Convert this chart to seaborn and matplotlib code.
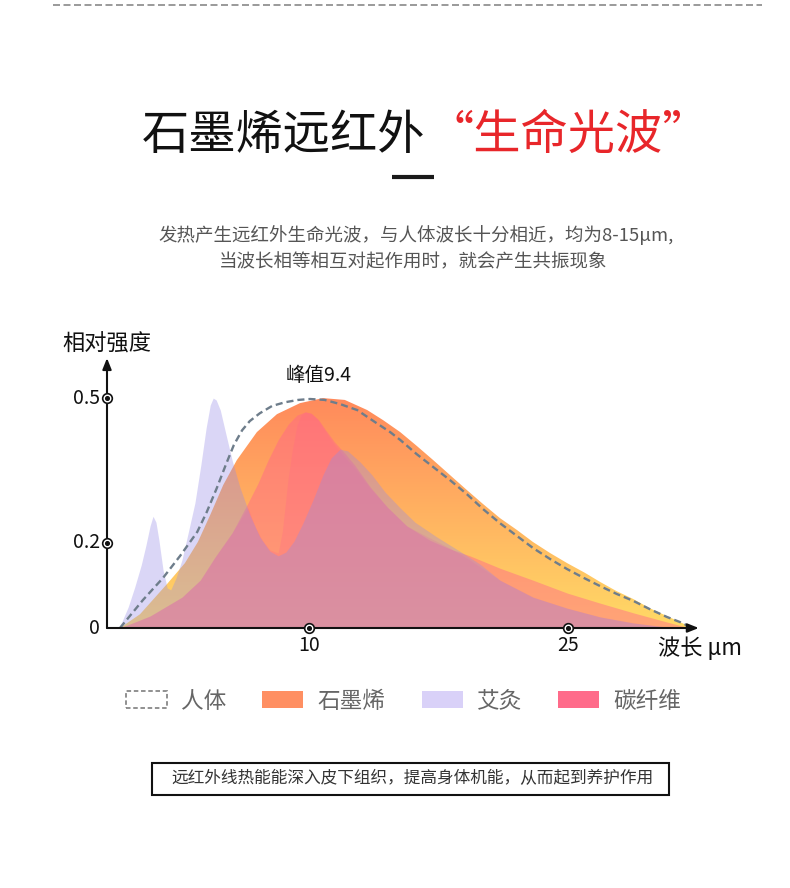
import numpy as np
import matplotlib.pyplot as plt
import seaborn as sns
from matplotlib.colors import LinearSegmentedColormap
from matplotlib.patches import Polygon, Patch, Rectangle
from matplotlib.lines import Line2D

# values
# x = position along the wavelength axis (0 = origin, 100 = arrow tip), y = relative intensity
human_x = [2.2, 6.1, 9.5, 12.4, 15.3, 16.9, 18.6, 20.2, 21.5, 22.9, 24.2, 25.9, 28.0, 30.2,
           32.4, 34.4, 36.9, 39.5, 42.4, 45.4, 48.0, 49.7, 52.5, 55.3, 58.1, 61.0, 63.7, 66.6,
           69.5, 72.2, 75.1, 78.0, 80.8, 83.6, 86.4, 89.2, 92.0, 94.9, 97.1, 99.3]
human_y = [0, 0.061, 0.109, 0.157, 0.209, 0.252, 0.304, 0.357, 0.398, 0.430, 0.450, 0.467,
           0.483, 0.491, 0.496, 0.498, 0.496, 0.487, 0.474, 0.448, 0.426, 0.409, 0.378, 0.350,
           0.322, 0.291, 0.259, 0.228, 0.200, 0.174, 0.150, 0.128, 0.109, 0.091, 0.074, 0.059,
           0.041, 0.024, 0.013, 0]

graphene_x = [2.2, 5.6, 10.2, 13.2, 15.4, 17.5, 19.7, 22.0, 25.4, 28.8, 32.7, 36.6, 40.3, 44.1,
              46.8, 49.7, 52.5, 55.3, 58.1, 61.0, 63.7, 66.6, 69.5, 72.2, 75.1, 78.0, 81.0,
              83.6, 86.4, 89.2, 92.0, 94.9, 97.1, 99.3]
graphene_y = [0, 0.030, 0.096, 0.141, 0.187, 0.246, 0.311, 0.365, 0.426, 0.465, 0.489, 0.500,
              0.496, 0.474, 0.452, 0.426, 0.396, 0.365, 0.333, 0.300, 0.270, 0.239, 0.213,
              0.187, 0.163, 0.141, 0.120, 0.100, 0.080, 0.063, 0.043, 0.026, 0.013, 0]

moxa_x = [1.9, 2.5, 3.6, 4.7, 5.8, 6.6, 7.3, 7.8, 8.3, 8.8, 9.5, 10.2, 10.8, 11.7, 12.7, 13.6,
          14.9, 15.9, 16.8, 17.5, 18.0, 18.5, 19.2, 20.0, 21.2, 22.5, 24.2, 25.9, 27.6, 29.0,
          30.3, 31.7, 33.2, 34.9, 36.6, 38.0, 39.5, 40.8, 42.9, 44.9, 47.1, 49.7, 52.2, 55.9,
          59.8, 63.2, 66.6, 72.2, 78.0, 83.6, 89.2, 94.9, 98.8]
moxa_y = [0, 0.013, 0.046, 0.089, 0.137, 0.180, 0.222, 0.243, 0.230, 0.191, 0.126, 0.087,
          0.083, 0.109, 0.148, 0.198, 0.272, 0.354, 0.435, 0.485, 0.500, 0.496, 0.474, 0.430,
          0.365, 0.307, 0.246, 0.198, 0.167, 0.157, 0.165, 0.189, 0.228, 0.278, 0.333, 0.370,
          0.389, 0.385, 0.361, 0.333, 0.296, 0.261, 0.230, 0.198, 0.167, 0.139, 0.104, 0.067,
          0.043, 0.024, 0.011, 0.002, 0]

# carbon fibre is drawn as two overlapping layers: a broad one and the sharp peak
carbon_x = [2.2, 7.3, 12.7, 15.8, 18.3, 21.2, 23.9, 25.6, 27.3, 29.0, 30.7, 32.2, 33.6, 34.6,
            35.8, 37.1, 38.6, 40.3, 42.0, 44.6, 47.5, 50.8, 54.7, 58.1, 61.5, 66.6, 72.2,
            78.0, 83.6, 89.2, 94.9, 98.8]
carbon_y = [0, 0.026, 0.067, 0.104, 0.154, 0.207, 0.272, 0.315, 0.365, 0.409, 0.443, 0.463,
            0.470, 0.467, 0.454, 0.430, 0.404, 0.380, 0.354, 0.307, 0.263, 0.222, 0.191,
            0.172, 0.157, 0.130, 0.104, 0.076, 0.054, 0.033, 0.013, 0]

carbon_peak_x = [2.2, 7.3, 12.7, 15.8, 18.3, 21.2, 23.9, 25.1, 26.3, 27.6, 29.0, 29.7, 30.2,
                 30.7, 31.4, 32.2, 32.9, 33.6, 34.6, 35.8, 37.1, 38.6, 40.3, 42.0, 44.6, 47.5,
                 50.8, 54.7, 58.1, 61.5, 66.6, 72.2, 78.0, 83.6, 89.2, 94.9, 98.8]
carbon_peak_y = [0, 0.026, 0.067, 0.104, 0.154, 0.207, 0.262, 0.220, 0.191, 0.170, 0.163,
                 0.209, 0.267, 0.326, 0.387, 0.441, 0.463, 0.470, 0.467, 0.452, 0.426, 0.398,
                 0.372, 0.348, 0.304, 0.263, 0.222, 0.196, 0.174, 0.148, 0.104, 0.067, 0.043,
                 0.024, 0.011, 0.002, 0]

x_tick_pos = [34.2, 78.1]
x_tick_labels = ["10", "25"]
y_tick_pos = [0, 0.185, 0.5]
y_tick_labels = ["0", "0.2", "0.5"]

legend_labels = ["人体", "石墨烯", "艾灸", "碳纤维"]
legend_colors = ["white", "#FF8F62", "#D9D1F8", "#FF6B8A"]

# style
sns.set_theme(style="white")
plt.rcParams["font.family"] = ["Noto Sans CJK SC", "DejaVu Sans"]

W, H = 790, 888
fig = plt.figure(figsize=(W / 100, H / 100), dpi=100)
fig.patch.set_facecolor("white")


def fx(px):
    return px / W


def fy(py):
    return 1 - py / H


# top dashed rule
fig.add_artist(Line2D([fx(53), fx(762)], [fy(5), fy(5)], color="#9a9a9a", lw=1.4,
                      linestyle=(0, (3.6, 1.8))))

# title
fig.text(fx(425), fy(136), "石墨烯远红外", ha="right", va="center", fontsize=34, color="#111111")
fig.text(fx(427), fy(136), "“生命光波”", ha="left", va="center", fontsize=34, color="#E8262A")
fig.add_artist(Line2D([fx(392), fx(434)], [fy(177), fy(177)], color="#1a1a1a", lw=3,
                      solid_capstyle="butt"))

# subtitle
fig.text(fx(416), fy(235), "发热产生远红外生命光波，与人体波长十分相近，均为8-15μm,",
         ha="center", va="center", fontsize=13.3, color="#555555")
fig.text(fx(413), fy(262), "当波长相等相互对起作用时，就会产生共振现象",
         ha="center", va="center", fontsize=13.3, color="#555555")

# chart
ax = fig.add_axes([fx(107), fy(628), 590 / W, 269 / H])

g_poly = Polygon(np.column_stack([graphene_x, graphene_y]), closed=True,
                 facecolor="none", edgecolor="none")
ax.add_patch(g_poly)
grad = np.linspace(0, 1, 256).reshape(-1, 1)
g_cmap = LinearSegmentedColormap.from_list("graphene", ["#FFDA66", "#FF8A5C"])
im = ax.imshow(grad, extent=[0, 100, 0, 0.5], origin="lower", aspect="auto",
               cmap=g_cmap, zorder=1)
im.set_clip_path(g_poly)

ax.fill_between(carbon_x, carbon_y, 0, color="#FF648C", alpha=0.45, lw=0, zorder=2)
ax.fill_between(carbon_peak_x, carbon_peak_y, 0, color="#FF648C", alpha=0.25, lw=0, zorder=2.5)
ax.fill_between(moxa_x, moxa_y, 0, color="#968CE6", alpha=0.35, lw=0, zorder=3)

sns.lineplot(x=human_x, y=human_y, ax=ax, color="#6e7d8b", linewidth=1.7,
             linestyle=(0, (3, 1.7)), sort=False, estimator=None, zorder=4)

ax.set_xlim(0, 100)
ax.set_ylim(0, 0.585)
ax.axis("off")

# axes with arrows
arrow = dict(arrowstyle="-|>,head_length=0.55,head_width=0.22", color="#111111", lw=1.5,
             shrinkA=0, shrinkB=0)
ax.annotate("", xy=(100.3, 0), xytext=(0, 0), arrowprops=arrow, annotation_clip=False, zorder=5)
ax.annotate("", xy=(0, 0.587), xytext=(0, 0), arrowprops=arrow, annotation_clip=False, zorder=5)

# circled tick marks
ax.scatter(x_tick_pos, [0] * len(x_tick_pos), s=48, facecolor="white", edgecolor="#111111",
           linewidth=1.2, zorder=6, clip_on=False)
ax.scatter(x_tick_pos, [0] * len(x_tick_pos), s=7, color="#111111", zorder=7, clip_on=False)
ax.scatter([0] * 2, y_tick_pos[1:], s=48, facecolor="white", edgecolor="#111111",
           linewidth=1.2, zorder=6, clip_on=False)
ax.scatter([0] * 2, y_tick_pos[1:], s=7, color="#111111", zorder=7, clip_on=False)

for xp, lab in zip(x_tick_pos, x_tick_labels):
    ax.text(xp, -0.039, lab, ha="center", va="center", fontsize=14, color="#111111")
for yp, lab in zip(y_tick_pos, y_tick_labels):
    ax.text(-1.2, yp, lab, ha="right", va="center", fontsize=14, color="#111111")

ax.text(0, 0.617, "相对强度", ha="center", va="center", fontsize=16, color="#111111")
ax.text(93.4, -0.043, "波长 μm", ha="left", va="center", fontsize=16, color="#111111")
ax.text(35.8, 0.55, "峰值9.4", ha="center", va="center", fontsize=14, color="#111111")

# legend
handles = [Patch(facecolor=legend_colors[0], edgecolor="#888888", linestyle=(0, (2.5, 1.5)),
                 linewidth=1.3)]
handles += [Patch(facecolor=c, edgecolor="none") for c in legend_colors[1:]]
fig.legend(handles, legend_labels, loc="center left", bbox_to_anchor=(fx(126), fy(701)),
           ncol=4, frameon=False, fontsize=16.3, handlelength=1.81, handleheight=0.8,
           handletextpad=0.62, columnspacing=1.6, borderpad=0, borderaxespad=0,
           labelcolor="#666666")

# bottom note box
fig.add_artist(Rectangle((fx(152), fy(795)), 517 / W, 32 / H, transform=fig.transFigure,
                         facecolor="none", edgecolor="#111111", lw=1.5))
fig.text(fx(412), fy(779), "远红外线热能能深入皮下组织，提高身体机能，从而起到养护作用",
         ha="center", va="center", fontsize=12, color="#333333")

fig.savefig("out.png", dpi=100)
